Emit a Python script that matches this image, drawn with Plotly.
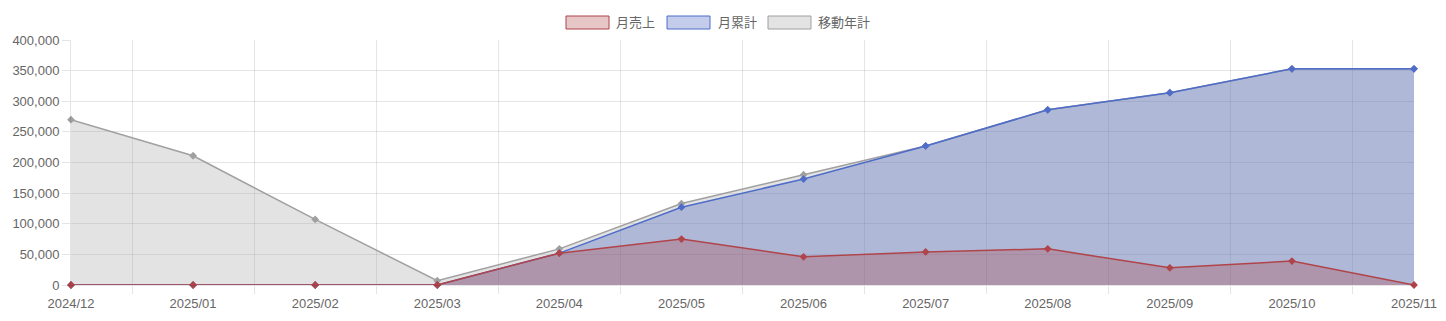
import plotly.graph_objects as go

months = ["2024/12", "2025/01", "2025/02", "2025/03", "2025/04", "2025/05",
          "2025/06", "2025/07", "2025/08", "2025/09", "2025/10", "2025/11"]
monthly_sales = [0, 0, 0, 0, 52000, 75000, 46000, 54000, 59000, 28000, 39000, 0]
cumulative = [0, 0, 0, 0, 52000, 127000, 173000, 227000, 286000, 314000, 353000, 353000]
moving_annual = [270000, 211000, 107000, 7000, 59000, 133000, 180000, 227000,
                 286000, 314000, 353000, 353000]
series_names = ["月売上", "月累計", "移動年計"]

x = list(range(len(months)))

RED = "rgb(176,68,74)"
RED_F = "rgba(173,66,70,0.3)"
BLUE = "rgb(78,108,200)"
BLUE_F = "rgba(57,90,190,0.3)"
GRAY = "rgb(160,160,160)"
GRAY_F = "rgba(162,162,162,0.3)"

FONT = "Liberation Sans, Arial, Noto Sans CJK JP, sans-serif"
FS = 13

fig = go.Figure()


def add(vals, line, fillc, name):
    fig.add_trace(go.Scatter(
        x=x, y=vals, mode="lines+markers", name=name, fill="tozeroy",
        fillcolor=fillc, line=dict(color=line, width=1.5),
        marker=dict(symbol="diamond", size=6, color=line),
        cliponaxis=False, showlegend=False,
    ))


add(moving_annual, GRAY, GRAY_F, series_names[2])
add(cumulative, BLUE, BLUE_F, series_names[1])
add(monthly_sales, RED, RED_F, series_names[0])

# Plot area in pixels
L, R, T, B = 71, 1414, 40, 285
W, H = 1446, 321


def px(xp):
    return (xp - L) / (R - L)


def py(yp):
    return (B - yp) / (B - T)


legend = [
    (566, 609, 614, series_names[0], RED_F, RED),
    (667, 710, 716, series_names[1], BLUE_F, BLUE),
    (768, 811, 816, series_names[2], GRAY_F, GRAY),
]
shapes = []
annotations = []
for x0, x1, tx, name, fc, lc in legend:
    shapes.append(dict(type="rect", xref="paper", yref="paper",
                       x0=px(x0), x1=px(x1), y0=py(29), y1=py(16),
                       fillcolor=fc, line=dict(color=lc, width=1)))
    annotations.append(dict(xref="paper", yref="paper", x=px(tx), y=py(22),
                            text=name, showarrow=False, xanchor="left",
                            yanchor="middle",
                            font=dict(family=FONT, size=FS, color="#666")))

GRID = "rgba(0,0,0,0.1)"
fig.update_layout(
    width=W, height=H,
    margin=dict(l=L, r=W - R, t=T, b=H - B, autoexpand=False),
    plot_bgcolor="white", paper_bgcolor="white",
    font=dict(family=FONT, size=FS, color="#666"),
    shapes=shapes, annotations=annotations,
    xaxis=dict(
        range=[0, len(months) - 1], tickvals=x, ticktext=months,
        automargin=False,
        showgrid=False, zeroline=False, showline=True, linecolor=GRID,
        ticks="outside", ticklen=6, tickcolor="rgba(0,0,0,0)",
        minor=dict(tickvals=[i + 0.5 for i in range(len(months) - 1)],
                   showgrid=True, gridcolor=GRID, gridwidth=1,
                   ticks="outside", ticklen=8, tickcolor=GRID),
        tickfont=dict(family=FONT, size=FS, color="#666"),
    ),
    yaxis=dict(
        range=[0, 400000], dtick=50000, tickformat=",d",
        automargin=False,
        showgrid=True, gridcolor=GRID, zeroline=False,
        showline=True, linecolor=GRID,
        ticks="outside", ticklen=8, tickcolor=GRID,
        tickfont=dict(family=FONT, size=FS, color="#666"),
    ),
)

fig.write_html("out.html")
